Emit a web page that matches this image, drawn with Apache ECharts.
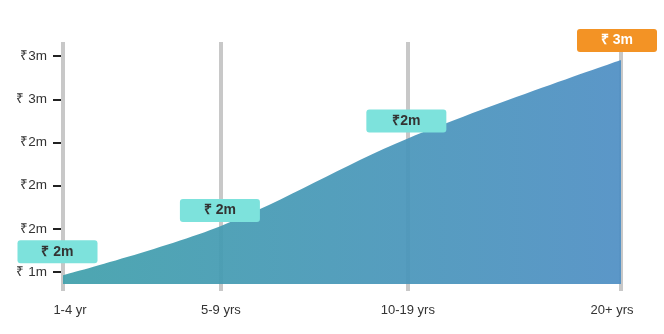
<!DOCTYPE html>
<html>
<head>
<meta charset="utf-8">
<script src="https://cdn.jsdelivr.net/npm/echarts@6/dist/echarts.min.js"></script>
<style>
html,body{margin:0;padding:0;background:#fff;}
#chart{width:664px;height:334px;}
</style>
</head>
<body>
<div id="chart"></div>
<script>
// ---- data ----
var categories = ['1-4 yr', '5-9 yrs', '10-19 yrs', '20+ yrs'];
var categoryPos = [0, 28.3, 61.8, 100];          // relative position of each bracket on the x scale
var values = [1.172, 1.628, 2.437, 3.163];        // amount in millions (₹)
var pointLabels = ['₹ 2m', '₹ 2m', '₹2m', '₹ 3m'];
var yTickValues = [1.2, 1.6, 2.0, 2.4, 2.8, 3.2];
var yTickLabels = ['₹ 1m', '₹2m', '₹2m', '₹2m', '₹ 3m', '₹3m'];

// ---- chart ----
var chart = echarts.init(document.getElementById('chart'), null, {renderer: 'canvas'});
var FONT = '"Liberation Sans", Arial, sans-serif';

var labelOffsets = [[-5.5, 0], [-1, 0], [-1.5, 0], [-4, 0]];
var labelDistances = [12, 4, 6, 8];
var seriesData = values.map(function (v, i) {
  var last = i === values.length - 1;
  return {
    value: [categoryPos[i], v],
    label: {
      show: true,
      position: 'top',
      distance: labelDistances[i],
      offset: labelOffsets[i],
      formatter: pointLabels[i],
      backgroundColor: last ? '#f39325' : '#7de2dc',
      color: last ? '#ffffff' : '#333333',
      borderRadius: 3,
      width: 80,
      height: 23,
      lineHeight: 23,
      align: 'center',
      fontSize: 14,
      fontWeight: 'bold',
      fontFamily: FONT
    }
  };
});

var option = {
  backgroundColor: '#ffffff',
  animation: false,
  grid: {left: 63, right: 43, top: 42, bottom: 50, containLabel: false},
  xAxis: {
    type: 'value',
    min: 0,
    max: 100,
    axisLine: {show: false},
    splitLine: {show: false},
    axisTick: {
      show: true,
      customValues: categoryPos,
      length: 7,
      lineStyle: {color: '#c8c8c8', width: 4}
    },
    axisLabel: {
      customValues: categoryPos,
      margin: 20,
      fontSize: 13,
      color: '#333',
      fontFamily: FONT,
      formatter: function (v) {
        var i = categoryPos.indexOf(v);
        if (i === 0) return '{a|' + categories[i] + '}';
        if (i === categories.length - 1) return '{b|' + categories[i] + '}';
        return i >= 0 ? categories[i] : '';
      },
      rich: {
        a: {fontSize: 13, color: '#333', fontFamily: FONT, padding: [0, 0, 0, 14]},
        b: {fontSize: 13, color: '#333', fontFamily: FONT, padding: [0, 18, 0, 0]}
      }
    }
  },
  yAxis: {
    type: 'value',
    min: 1.09,
    max: 3.33,
    offset: 3,
    axisLine: {show: false},
    splitLine: {show: false},
    axisTick: {
      show: true,
      customValues: yTickValues,
      length: 10,
      lineStyle: {color: '#222', width: 2}
    },
    axisLabel: {
      customValues: yTickValues,
      margin: 13,
      fontSize: 13.5,
      color: '#333',
      fontFamily: FONT,
      formatter: function (v) {
        var i = yTickValues.indexOf(v);
        return i >= 0 ? yTickLabels[i] : '';
      }
    }
  },
  series: [{
    type: 'line',
    z: 2,
    smooth: 0.35,
    symbol: 'circle',
    symbolSize: 0,
    showSymbol: true,
    clip: false,
    itemStyle: {color: '#4f8fc4'},
    lineStyle: {width: 0},
    areaStyle: {
      opacity: 0.93,
      color: new echarts.graphic.LinearGradient(0, 0, 1, 0, [
        {offset: 0, color: '#40a0ab'},
        {offset: 1, color: '#4f8fc4'}
      ])
    },
    data: seriesData,
    markLine: {
      silent: true,
      z: 1,
      symbol: ['none', 'none'],
      label: {show: false},
      lineStyle: {color: '#c8c8c8', width: 4, type: 'solid'},
      data: categoryPos.map(function (p) { return {xAxis: p}; })
    }
  }]
};
chart.setOption(option);
</script>
</body>
</html>
